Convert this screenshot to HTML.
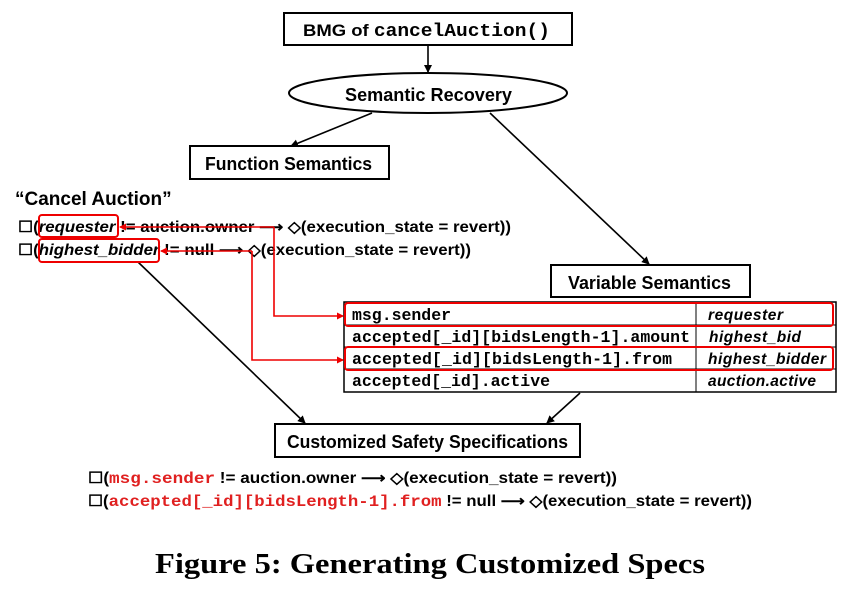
<!DOCTYPE html>
<html><head><meta charset="utf-8"><style>
html,body{margin:0;padding:0;background:#fff;width:866px;height:591px;overflow:hidden}
svg{display:block}
.s{font-family:"Liberation Sans",sans-serif;font-weight:bold}
.n{font-family:"Liberation Sans",sans-serif;font-weight:bold}
.m{font-family:"Liberation Mono",monospace;font-weight:bold}
</style></head><body>
<svg width="866" height="591" viewBox="0 0 866 591" xmlns="http://www.w3.org/2000/svg">
<defs>
<marker id="a" markerWidth="8" markerHeight="8" refX="7" refY="4" orient="auto" markerUnits="userSpaceOnUse"><path d="M0,0 L8,4 L0,8 z" fill="#000"/></marker>
<marker id="r" markerWidth="7" markerHeight="7" refX="6" refY="3.5" orient="auto" markerUnits="userSpaceOnUse"><path d="M0,0 L7,3.5 L0,7 z" fill="#e00"/></marker>
</defs>
<g stroke="#000" stroke-width="2" fill="#fff">
<rect x="284" y="13" width="288" height="32"/>
<ellipse cx="428" cy="93" rx="139" ry="20"/>
<rect x="190" y="146" width="199" height="33"/>
<rect x="551" y="265" width="199" height="32"/>
<rect x="275" y="424" width="305" height="33"/>
</g>
<g stroke="#000" stroke-width="1.6" fill="none">
<line x1="428" y1="45" x2="428" y2="72" marker-end="url(#a)"/>
<line x1="372" y1="113" x2="291" y2="146" marker-end="url(#a)"/>
<line x1="490" y1="113" x2="649" y2="264" marker-end="url(#a)"/>
<line x1="138" y1="262" x2="305" y2="423" marker-end="url(#a)"/>
<line x1="580" y1="393" x2="547" y2="423" marker-end="url(#a)"/>
</g>
<text x="303" y="36" font-size="17" textLength="247" lengthAdjust="spacingAndGlyphs"><tspan class="s">BMG of </tspan><tspan class="m" font-size="18">cancelAuction()</tspan></text>
<text class="n" x="345" y="101" font-size="18" textLength="167" lengthAdjust="spacingAndGlyphs">Semantic Recovery</text>
<text class="n" x="205" y="170" font-size="18" textLength="167" lengthAdjust="spacingAndGlyphs">Function Semantics</text>
<text class="n" x="568" y="289" font-size="18" textLength="163" lengthAdjust="spacingAndGlyphs">Variable Semantics</text>
<text class="n" x="287" y="448" font-size="18" textLength="281" lengthAdjust="spacingAndGlyphs">Customized Safety Specifications</text>
<text class="s" x="15" y="205" font-size="19">“Cancel Auction”</text>
<g class="s" font-size="15.5">
<text x="18" y="232" textLength="493" lengthAdjust="spacingAndGlyphs">☐(<tspan font-style="italic">requester</tspan> != auction.owner ⟶ ◇(execution_state = revert))</text>
<text x="18" y="255" textLength="453" lengthAdjust="spacingAndGlyphs">☐(<tspan font-style="italic">highest_bidder</tspan> != null ⟶ ◇(execution_state = revert))</text>
</g>
<g stroke="#000" stroke-width="1.5" fill="#fff">
<rect x="344" y="302" width="492" height="90"/>
</g>
<g stroke="#000" stroke-width="1">
<line x1="344" y1="325" x2="836" y2="325"/><line x1="344" y1="347" x2="836" y2="347"/><line x1="344" y1="369" x2="836" y2="369"/>
<line x1="696" y1="302" x2="696" y2="392"/>
</g>
<g class="m" font-size="16.5" lengthAdjust="spacingAndGlyphs">
<text x="352" y="320" textLength="99">msg.sender</text>
<text x="352" y="342" textLength="338">accepted[_id][bidsLength-1].amount</text>
<text x="352" y="364" textLength="320">accepted[_id][bidsLength-1].from</text>
<text x="352" y="386" textLength="198">accepted[_id].active</text>
</g>
<g class="s" font-size="15.5" font-style="italic" lengthAdjust="spacingAndGlyphs">
<text x="708" y="320" textLength="75">requester</text>
<text x="709" y="342" textLength="92">highest_bid</text>
<text x="708" y="364" textLength="118">highest_bidder</text>
<text x="708" y="386" textLength="108">auction.active</text>
</g>
<g stroke="#e00" stroke-width="2" fill="none">
<rect x="39" y="215" width="79" height="22" rx="3"/>
<rect x="39" y="239" width="120" height="23" rx="3"/>
<rect x="345" y="303" width="488" height="23" rx="3"/>
<rect x="345" y="347" width="488" height="23" rx="3"/>
</g>
<g stroke="#e00" stroke-width="1.6" fill="none">
<polyline points="274,227 274,316 343,316" marker-end="url(#r)"/>
<line x1="274" y1="227" x2="120" y2="227" marker-end="url(#r)"/>
<polyline points="252,251 252,360 343,360" marker-end="url(#r)"/>
<line x1="252" y1="251" x2="161" y2="251" marker-end="url(#r)"/>
</g>
<g font-size="15.5">
<text x="88" y="483" class="s" textLength="529" lengthAdjust="spacingAndGlyphs">☐(<tspan class="m" fill="#e02020" font-size="16">msg.sender</tspan> != auction.owner ⟶ ◇(execution_state = revert))</text>
<text x="88" y="506" class="s" textLength="664" lengthAdjust="spacingAndGlyphs">☐(<tspan class="m" fill="#e02020" font-size="16">accepted[_id][bidsLength-1].from</tspan> != null ⟶ ◇(execution_state = revert))</text>
</g>
<text x="430" y="573" text-anchor="middle" font-family="Liberation Serif,serif" font-weight="bold" font-size="29" textLength="550" lengthAdjust="spacingAndGlyphs">Figure 5: Generating Customized Specs</text>
</svg>
</body></html>
